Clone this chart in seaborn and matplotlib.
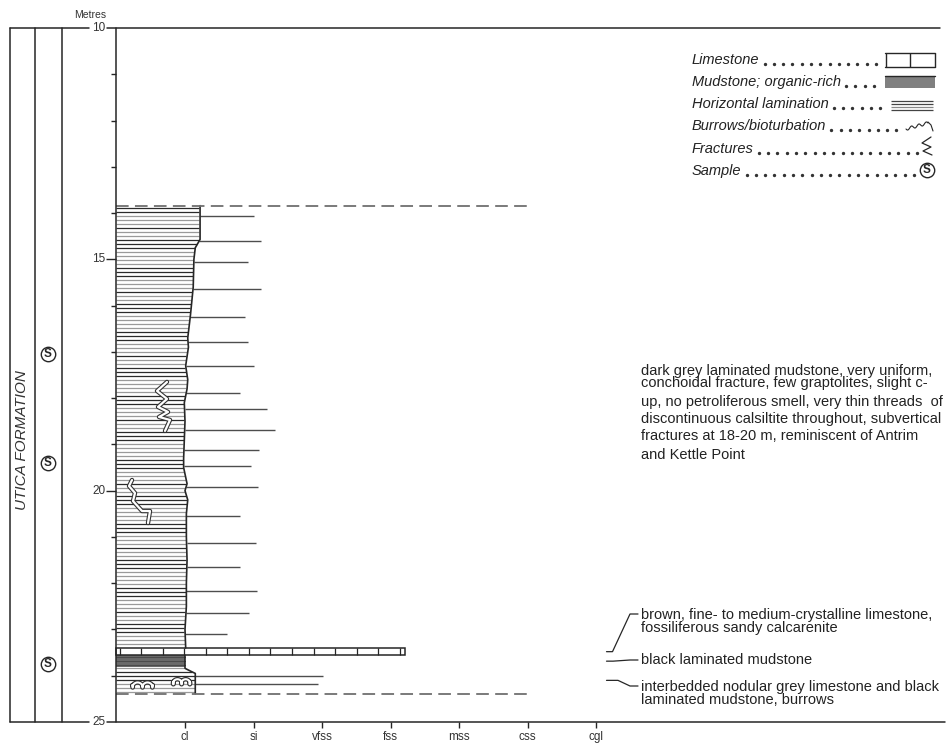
import numpy as np
import pandas as pd
import matplotlib
matplotlib.use("Agg")
import matplotlib.pyplot as plt
import matplotlib.patheffects as pe
from matplotlib.patches import Rectangle
import seaborn as sns

# ---------------------------------------------------------------- data
grain_labels = ["cl", "si", "vfss", "fss", "mss", "css", "cgl"]
grain_pos = [1, 2, 3, 4, 5, 6, 7]
depth_labels = [10, 15, 20, 25]
depth_minor = [11, 12, 13, 14, 16, 17, 18, 19, 21, 22, 23, 24]

# right edge (grain size) of the laminated mudstone column
profile_depth = [13.84, 14.57, 14.75, 15.00, 15.60, 16.20, 16.70, 16.90, 17.30, 17.60,
                 17.80, 18.10, 18.50, 18.90, 19.30, 19.50, 19.85, 20.00, 20.20, 20.50,
                 21.00, 21.50, 22.00, 22.50, 23.00, 23.40]
profile_grain = [1.22, 1.22, 1.15, 1.13, 1.12, 1.08, 1.04, 1.05, 1.01, 1.04,
                 1.03, 0.99, 1.00, 0.99, 0.98, 0.98, 1.03, 1.00, 1.04, 1.02,
                 1.02, 1.03, 1.02, 1.02, 1.00, 1.01]

# black mudstone and interbedded unit below the limestone bed
lower_depth = [23.56, 23.84, 23.90, 23.95, 24.39]
lower_grain = [1.00, 1.00, 1.08, 1.15, 1.15]

# unit boundaries (m)
log_top, log_base = 13.84, 24.39
lime_top, lime_base, lime_grain = 23.40, 23.56, 4.21
black_top, black_base = 23.56, 23.81

# horizontal texture ticks right of the column
tick_depth = [14.07, 14.60, 15.05, 15.64, 16.25, 16.78, 17.30, 17.88, 18.23, 18.68, 19.13,
              19.47, 19.92, 20.55, 21.14, 21.66, 22.17, 22.65, 23.10, 24.01, 24.18]
tick_grain = [2.00, 2.11, 1.92, 2.11, 1.88, 1.92, 2.00, 1.81, 2.19, 2.31, 2.08,
              1.96, 2.06, 1.81, 2.04, 1.81, 2.05, 1.94, 1.61, 3.01, 2.94]

sample_depth = [17.05, 19.40, 23.75]
fracture_depth = [17.65, 19.77]
burrow_depth = [24.20, 24.13]

main_desc = ["dark grey laminated mudstone, very uniform,",
             "conchoidal fracture, few graptolites, slight c-",
             "up, no petroliferous smell, very thin threads  of",
             "discontinuous calsiltite throughout, subvertical",
             "fractures at 18-20 m, reminiscent of Antrim",
             "and Kettle Point"]
lime_desc = ["brown, fine- to medium-crystalline limestone,",
             "fossiliferous sandy calcarenite"]
black_desc = ["black laminated mudstone"]
inter_desc = ["interbedded nodular grey limestone and black",
              "laminated mudstone, burrows"]

legend_items = ["Limestone", "Mudstone; organic-rich", "Horizontal lamination",
                "Burrows/bioturbation", "Fractures", "Sample"]

# ---------------------------------------------------------------- figure
sns.set_theme(style="white")
plt.rcParams["font.family"] = ["Liberation Sans", "DejaVu Sans"]

W, H = 951, 746
fig = plt.figure(figsize=(W / 100, H / 100), dpi=100)
fig.patch.set_facecolor("white")
ax = fig.add_axes([10 / W, (H - 722) / H, (945 - 10) / W, (722 - 28) / H])

X0PX, UX = 116.5, 68.5            # pixel of grain 0, pixels per grain class
Y0PX, UY = 28.0, (722 - 28) / 15  # pixel of 10 m, pixels per metre


def gx(px):
    return (np.asarray(px, dtype=float) - X0PX) / UX


def gy(py):
    return 10 + (np.asarray(py, dtype=float) - Y0PX) / UY


INK = "#262626"
TXT = "#222222"

# column body
ax.fill_betweenx(profile_depth, 0, profile_grain, color="white", zorder=1)


def edge_at(d):
    d = np.asarray(d, dtype=float)
    upper = np.interp(d, profile_depth, profile_grain)
    lower = np.interp(d, lower_depth, lower_grain)
    return np.where(d <= lime_top, upper, lower)


# horizontal lamination
lam_cols = ["#2b2b2b", "#2b2b2b", "#9a9a9a", "#9a9a9a", "#9a9a9a", "#2b2b2b", "#9a9a9a",
            "#9a9a9a", "#2b2b2b", "#2b2b2b", "#2b2b2b", "#9a9a9a", "#9a9a9a", "#9a9a9a",
            "#9a9a9a", "#2b2b2b"]
lam_upper = np.arange(log_top + 0.06, lime_top - 0.02, 4.0 / UY)
lam_lower = np.arange(black_base + 0.03, log_base - 0.02, 4.0 / UY)
for i, d in enumerate(np.concatenate([lam_upper, lam_lower])):
    ax.plot([0, float(edge_at(d)) - 0.01], [d, d], color=lam_cols[i % len(lam_cols)],
            lw=0.9, zorder=2, solid_capstyle="butt")

# black organic-rich mudstone
ax.add_patch(Rectangle((0, black_top), 1.0, black_base - black_top, fc="#6a6a6a",
                       ec="none", zorder=2))
for d in np.arange(black_top + 0.04, black_base, 4.0 / UY):
    ax.plot([0, 1.0], [d, d], color="#4a4a4a", lw=0.8, zorder=2)

# limestone bed
ax.add_patch(Rectangle((0, lime_top), lime_grain, lime_base - lime_top, fc="white",
                       ec=INK, lw=1.1, zorder=3))
ax.vlines(np.arange(0.05, lime_grain, 0.314), lime_top, lime_base, color=INK, lw=0.9, zorder=3)

# column outline (grain-size profile)
prof = pd.DataFrame({"grain": profile_grain, "depth": profile_depth})
sns.lineplot(data=prof, x="grain", y="depth", orient="y", sort=False, estimator=None,
             color=INK, lw=1.2, ax=ax, zorder=4)
low = pd.DataFrame({"grain": lower_grain, "depth": lower_depth})
sns.lineplot(data=low, x="grain", y="depth", orient="y", sort=False, estimator=None,
             color=INK, lw=1.2, ax=ax, zorder=4)

# texture ticks
ax.hlines(tick_depth, edge_at(tick_depth), tick_grain, color="#4d4d4d", lw=1.0, zorder=3)

# fracture and burrow symbols (white with dark rim)
rim = [pe.Stroke(linewidth=3.2, foreground="#333333"), pe.Normal()]
frac_shapes = [
    [(0, 0), (-10, 9), (0, 17), (-9, 25), (1, 30), (-8, 35), (3, 38), (-2, 49)],
    [(0, 0), (-3, 6), (3, 13), (1, 21), (10, 31), (18, 31), (16, 43)],
]
frac_anchor = [167, 132]
for d0, x0, shape in zip(fracture_depth, frac_anchor, frac_shapes):
    xs = [gx(x0 + dx) for dx, dy in shape]
    ys = [d0 + dy / UY for dx, dy in shape]
    ax.plot(xs, ys, color="white", lw=1.6, zorder=5, path_effects=rim)

burrow_span = [(0.20, 0.56), (0.80, 1.10)]
for d0, (a, b) in zip(burrow_depth, burrow_span):
    t = np.linspace(0, 1, 60)
    xs = a + (b - a) * t + 0.03 * np.cos(t * 5 * np.pi)
    ys = d0 + 0.055 * np.sin(t * 5 * np.pi)
    ax.plot(xs, ys, color="white", lw=1.5, zorder=5, path_effects=rim)

# unit boundaries
ax.hlines([log_top, log_base], 0, 6.0, colors="#707070", lw=1.3,
          linestyles=[(0, (7, 3.5))], zorder=6)

# fix the data frame before anything is measured
ax.set_xlim(gx(10), gx(945))
ax.set_ylim(25, 10)
ax.set_xlabel("")
ax.set_ylabel("")
ax.axis("off")

# depth axis
ax.plot([0, 0], [10, 25], color=INK, lw=1.1, clip_on=False, zorder=6)
ax.hlines(depth_minor, gx(111), 0, color=INK, lw=1.0, clip_on=False)
ax.hlines([15, 20], gx(106), 0, color=INK, lw=1.0, clip_on=False)
for d in depth_labels:
    ax.text(gx(105.5), d, str(d), ha="right", va="center", fontsize=8.5,
            color="#333333", clip_on=False)
ax.text(gx(106), gy(15), "Metres", ha="right", va="center", fontsize=7.5,
        color="#333333", clip_on=False)

# frame lines
for d, right in [(10, 940), (25, 945)]:
    ax.plot([gx(10), gx(89)], [d, d], color=INK, lw=1.1, clip_on=False)
    ax.plot([gx(107), gx(right)], [d, d], color=INK, lw=1.1, clip_on=False)
for px in (10.5, 35, 62):
    ax.plot([gx(px), gx(px)], [10, 25], color=INK, lw=1.1, clip_on=False)

# grain-size axis
ax.vlines(grain_pos, 25, 25 + 6 / UY, color=INK, lw=1.0, clip_on=False)
for g, lab in zip(grain_pos, grain_labels):
    ax.text(g, 25 + 15 / UY, lab, ha="center", va="center", fontsize=8.5,
            color="#333333", clip_on=False)

# formation name and samples
ax.text(gx(22), gy(440), "UTICA FORMATION", rotation=90, ha="center", va="center",
        fontsize=11, style="italic", color="#333333", clip_on=False)


def sample_mark(x, y, r_px=7.2):
    ax.scatter([x], [y], s=(2 * r_px * 0.72) ** 2, facecolor="white", edgecolor=INK,
               linewidth=1.0, zorder=7, clip_on=False)
    ax.text(x, y, "S", ha="center", va="center", fontsize=8.5, fontweight="bold",
            color=INK, zorder=8, clip_on=False)


for d in sample_depth:
    sample_mark(gx(48), d)

# descriptions
desc_x = gx(641)
desc_size = 10.5
for line, py in zip(main_desc, [371, 383.5, 402.5, 419.5, 436, 455]):
    ax.text(desc_x, gy(py), line, ha="left", va="center", fontsize=desc_size, color=TXT)
for line, py in zip(lime_desc, [615, 628]):
    ax.text(desc_x, gy(py), line, ha="left", va="center", fontsize=desc_size, color=TXT)
for line, py in zip(black_desc, [660]):
    ax.text(desc_x, gy(py), line, ha="left", va="center", fontsize=desc_size, color=TXT)
for line, py in zip(inter_desc, [687, 700]):
    ax.text(desc_x, gy(py), line, ha="left", va="center", fontsize=desc_size, color=TXT)

# leaders from each unit to its description
unit_mid = [(lime_top + lime_base) / 2, (black_top + black_base) / 2,
            (black_base + log_base) / 2]
text_rows = [gy(614), gy(660), gy(686)]
knee = [612.5, 613, 618]
for dm, ty, k in zip(unit_mid, text_rows, knee):
    ax.plot([gx(606.5), gx(k), gx(630), gx(638)], [dm, dm, ty, ty], color=INK, lw=0.9)

# legend
rows_py = [60, 82, 104, 126, 149, 171]
sym_left = [885, 885, 890, 906, 920, 918]
label_texts = []
for lab, py in zip(legend_items, rows_py):
    label_texts.append(ax.text(gx(692), gy(py), lab, ha="left", va="center", fontsize=10.5,
                               style="italic", color=TXT))

# limestone symbol
y0, y1 = gy(53), gy(67)
ax.plot([gx(885), gx(935)], [y0, y0], color=INK, lw=1.0)
ax.plot([gx(885), gx(935)], [y1, y1], color=INK, lw=1.0)
ax.vlines([gx(885.5), gx(910), gx(934.5)], y0, y1, color=INK, lw=1.0)
# organic-rich mudstone symbol
ax.add_patch(Rectangle((gx(885), gy(76)), gx(935) - gx(885), gy(88) - gy(76),
                       fc="#808080", ec="none"))
ax.plot([gx(885), gx(935)], [gy(76), gy(76)], color=INK, lw=1.0)
# lamination symbol
ax.hlines([gy(100.5), gy(104), gy(107.5), gy(110.5)], gx(891), gx(933),
          color=["#444444", "#444444", "#888888", "#444444"], lw=0.9)
# burrow symbol
tb = np.linspace(0, 1, 40)
ax.plot(gx(906 + 22 * tb), gy(129 - 6 * tb + 1.5 * np.sin(tb * 6 * np.pi)), color=INK, lw=0.8)
ax.plot([gx(928), gx(931), gx(933)], [gy(122), gy(125), gy(131)], color=INK, lw=0.8)
# fracture symbol
fz = [(931, 137), (922, 143), (931, 147), (923, 151), (932, 155)]
ax.plot([gx(a) for a, b in fz], [gy(b) for a, b in fz], color=INK, lw=0.9)
# sample symbol
sample_mark(gx(926.5), gy(170))

# dot leaders between legend labels and symbols
fig.canvas.draw()
renderer = fig.canvas.get_renderer()
for t, py, sl in zip(label_texts, rows_py, sym_left):
    bb = t.get_window_extent(renderer)
    xs = np.arange(bb.x1 + 5, sl - 3, 9.3)
    ax.plot(gx(xs), np.full(len(xs), gy(py + 4)), linestyle="none", marker="o",
            markersize=1.4, color="#333333")

legend = ax.get_legend()
if legend is not None:
    legend.remove()

fig.savefig("out.png", dpi=100, facecolor="white")
